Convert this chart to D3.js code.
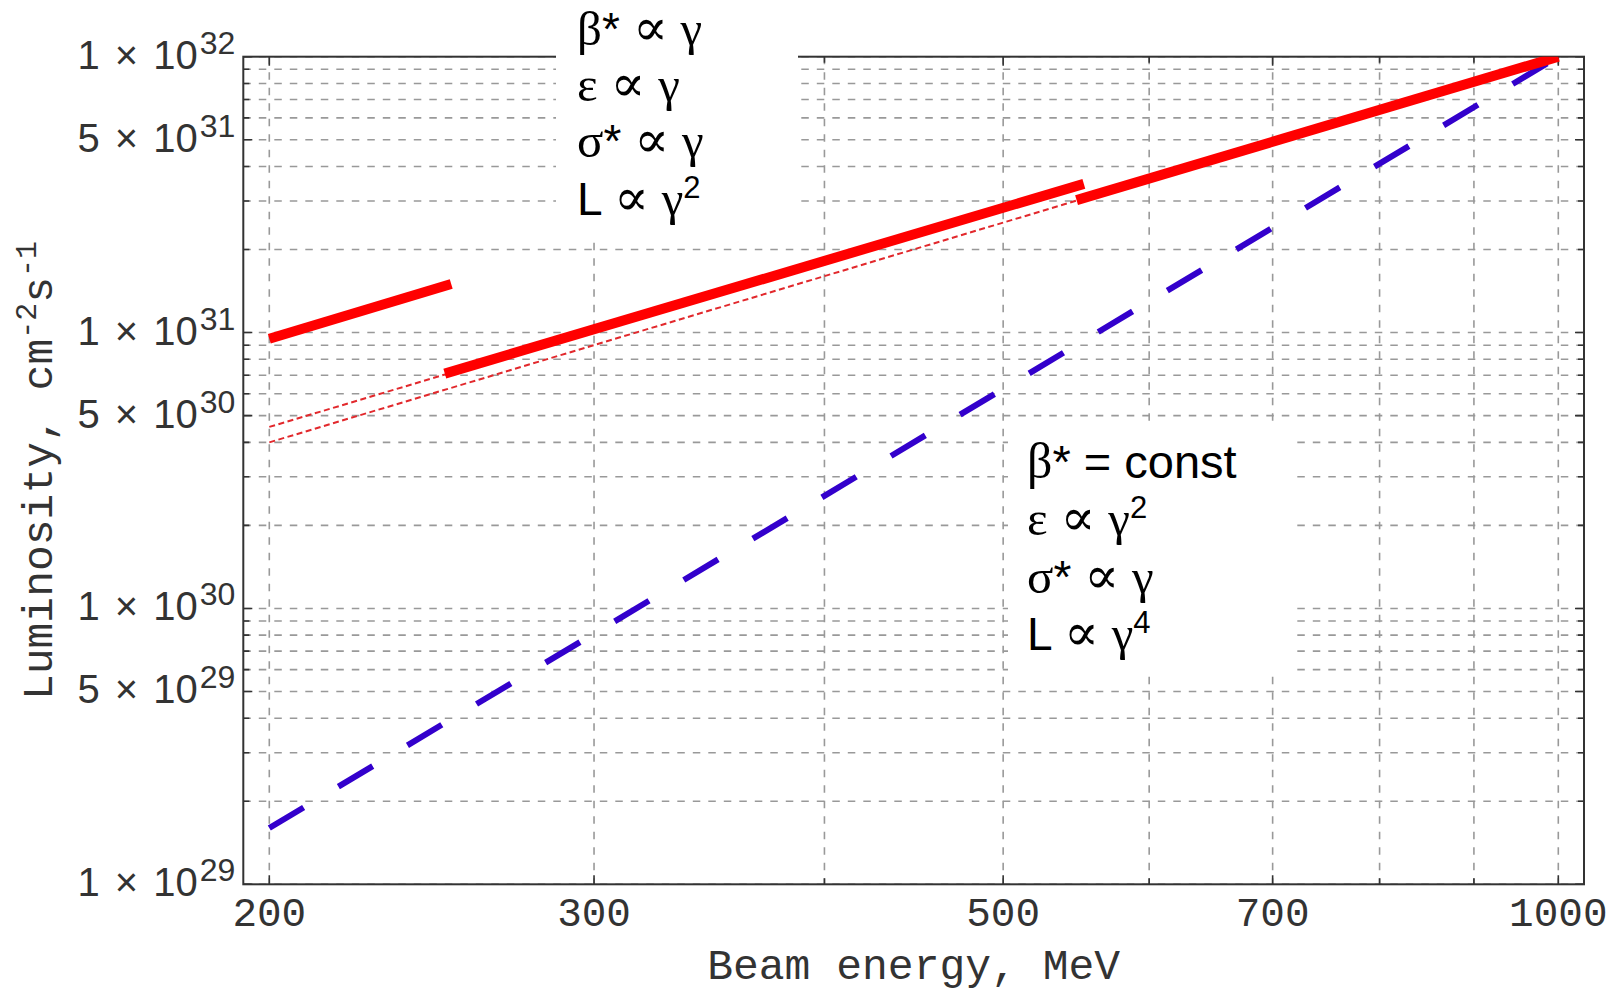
<!DOCTYPE html>
<html>
<head>
<meta charset="utf-8">
<script src="https://cdn.jsdelivr.net/npm/d3@7"></script>
<style>
	body { margin: 0; background: #fff; }
</style>
</head>
<body>
<div id="chart"></div>
<script>
/* * * * * * * * * * * * * *
 *   Luminosity vs energy   *
 * * * * * * * * * * * * * */

// x axis: beam energy, MeV
const energyGrid = [200, 300, 400, 500, 600, 700, 800, 900, 1000];
const energyTicks = [200, 300, 500, 700, 1000];

// y axis: luminosity, cm^-2 s^-1
const lumiMantissas = [1, 2, 3, 4, 5, 6, 7, 8, 9];
const lumiDecades = [29, 30, 31];
const lumiTicks = [1e29, 5e29, 1e30, 5e30, 1e31, 5e31, 1e32];

// red, beta* ~ gamma, thick pieces  [energy, luminosity]
const redStep1 = [[200, 9.5e30], [251, 1.5e31]];
const redStep2 = [[249, 7.1e30], [553, 3.46e31]];
const redStep3 = [[548, 3.02e31], [1000, 1.0e32]];

// thin dotted continuations of the red pieces
const redDotUpper = [[200, 4.55e30], [250, 7.1e30]];
const redDotLower = [[200, 4.0e30], [550, 3.03e31]];

// blue, beta* = const
const blueLine = [[200, 1.6e29], [1000, 1.0e32]];

// annotation text, one array of pieces per line
const upperNote = [
	[{ t: 'β', g: 1 }, { t: '*' }, { t: ' ' }, { t: '∝', g: 2 }, { t: ' ' }, { t: 'γ', g: 1 }],
	[{ t: 'ε', g: 1 }, { t: ' ' }, { t: '∝', g: 2 }, { t: ' ' }, { t: 'γ', g: 1 }],
	[{ t: 'σ', g: 1 }, { t: '*' }, { t: ' ' }, { t: '∝', g: 2 }, { t: ' ' }, { t: 'γ', g: 1 }],
	[{ t: 'L' }, { t: ' ' }, { t: '∝', g: 2 }, { t: ' ' }, { t: 'γ', g: 1 }, { t: '2', sup: 1 }]
];
const lowerNote = [
	[{ t: 'β', g: 1 }, { t: '* = const' }],
	[{ t: 'ε', g: 1 }, { t: ' ' }, { t: '∝', g: 2 }, { t: ' ' }, { t: 'γ', g: 1 }, { t: '2', sup: 1 }],
	[{ t: 'σ', g: 1 }, { t: '*' }, { t: ' ' }, { t: '∝', g: 2 }, { t: ' ' }, { t: 'γ', g: 1 }],
	[{ t: 'L' }, { t: ' ' }, { t: '∝', g: 2 }, { t: ' ' }, { t: 'γ', g: 1 }, { t: '4', sup: 1 }]
];

const MONO = "'Liberation Mono', 'DejaVu Sans Mono', monospace";
const SANS = "'Liberation Sans', Arial, sans-serif";
const GREEK = "'Liberation Serif', 'DejaVu Serif', serif";

class LumiChart {
	constructor(parentElement) {
		this.parentElement = parentElement;
		this.initVis();
	}

	initVis() {
		let vis = this;

		vis.width = 1619;
		vis.height = 995;

		vis.svg = d3
			.select('#' + vis.parentElement)
			.append('svg')
			.attr('width', vis.width)
			.attr('height', vis.height)
			.style('display', 'block')
			.style('background', '#fff');

		// log scales
		vis.x = d3.scaleLog().domain([200, 1000]).range([269.3, 1558.3]);
		vis.y = d3.scaleLog().domain([1e29, 1e32]).range([884.3, 56.7]);

		// frame is padded a bit left and right of the energy range
		vis.frame = {
			left: vis.x(200) - 26,
			right: vis.x(1000) + 25.7,
			top: vis.y(1e32),
			bottom: vis.y(1e29)
		};

		vis.lumiGrid = lumiDecades.flatMap((e) => lumiMantissas.map((m) => m * 10 ** e)).concat([1e32]);

		vis.drawGrid();
		vis.drawFrame();
		vis.drawBoxes();
		vis.drawLines();
		vis.drawLabels();
		vis.drawNotes();
	}

	drawGrid() {
		let vis = this;
		let f = vis.frame;
		let g = vis.svg.append('g').attr('class', 'grid');

		g.selectAll('.vgrid')
			.data(energyGrid)
			.join('line')
			.attr('class', 'vgrid')
			.attr('x1', (d) => vis.x(d))
			.attr('x2', (d) => vis.x(d))
			.attr('y1', f.top)
			.attr('y2', f.bottom)
			.attr('stroke', '#999')
			.attr('stroke-width', 1.6)
			.attr('stroke-dasharray', '7.5,8');

		g.selectAll('.hgrid')
			.data(vis.lumiGrid)
			.join('line')
			.attr('class', 'hgrid')
			.attr('x1', f.left)
			.attr('x2', f.right)
			.attr('y1', (d) => vis.y(d))
			.attr('y2', (d) => vis.y(d))
			.attr('stroke', '#999')
			.attr('stroke-width', 1.6)
			.attr('stroke-dasharray', '7.5,8');
	}

	drawFrame() {
		let vis = this;
		let f = vis.frame;
		let g = vis.svg.append('g').attr('class', 'frame');

		g.append('rect')
			.attr('x', f.left)
			.attr('y', f.top)
			.attr('width', f.right - f.left)
			.attr('height', f.bottom - f.top)
			.attr('fill', 'none')
			.attr('stroke', '#333')
			.attr('stroke-width', 2);

		// inward ticks on all four sides
		const isMajor = (d) => lumiTicks.some((t) => Math.abs(t / d - 1) < 1e-6);
		g.selectAll('.ytick')
			.data(vis.lumiGrid)
			.join('path')
			.attr('class', 'ytick')
			.attr('d', (d) => {
				let len = isMajor(d) ? 9 : 6;
				let yy = vis.y(d);
				return `M${f.left},${yy}h${len}M${f.right},${yy}h${-len}`;
			})
			.attr('stroke', '#333')
			.attr('stroke-width', 1.6);

		g.selectAll('.xtick')
			.data(energyGrid)
			.join('path')
			.attr('class', 'xtick')
			.attr('d', (d) => {
				let len = energyTicks.includes(d) ? 9 : 6;
				let xx = vis.x(d);
				return `M${xx},${f.bottom}v${-len}M${xx},${f.top}v${len}`;
			})
			.attr('stroke', '#333')
			.attr('stroke-width', 1.6);
	}

	drawBoxes() {
		let vis = this;

		// white backgrounds behind the two notes
		vis.svg.append('rect').attr('x', 556).attr('y', 0).attr('width', 242).attr('height', 236).attr('fill', '#fff');
		vis.svg.append('rect').attr('x', 1008).attr('y', 421).attr('width', 284).attr('height', 251).attr('fill', '#fff');
	}

	drawLines() {
		let vis = this;
		let f = vis.frame;

		vis.svg
			.append('clipPath')
			.attr('id', 'plot-clip')
			.append('rect')
			.attr('x', f.left)
			.attr('y', f.top)
			.attr('width', f.right - f.left)
			.attr('height', f.bottom - f.top);

		let line = d3
			.line()
			.x((d) => vis.x(d[0]))
			.y((d) => vis.y(d[1]));

		let g = vis.svg.append('g').attr('clip-path', 'url(#plot-clip)');

		// dotted continuations
		[redDotUpper, redDotLower].forEach((s) => {
			g.append('path')
				.datum(s)
				.attr('d', line)
				.attr('fill', 'none')
				.attr('stroke', '#e2282c')
				.attr('stroke-width', 2)
				.attr('stroke-dasharray', '6,3.5');
		});

		// blue long dashes
		g.append('path')
			.datum(blueLine)
			.attr('d', line)
			.attr('fill', 'none')
			.attr('stroke', '#3300cc')
			.attr('stroke-width', 6)
			.attr('stroke-dasharray', '40,40.5');

		// thick red pieces
		[redStep1, redStep2, redStep3].forEach((s) => {
			g.append('path')
				.datum(s)
				.attr('d', line)
				.attr('fill', 'none')
				.attr('stroke', '#ff0000')
				.attr('stroke-width', 10);
		});
	}

	drawLabels() {
		let vis = this;
		let f = vis.frame;

		// x tick labels
		vis.svg
			.append('g')
			.selectAll('text')
			.data(energyTicks)
			.join('text')
			.attr('x', (d) => vis.x(d))
			.attr('y', 926)
			.attr('text-anchor', 'middle')
			.style('font-family', MONO)
			.style('font-size', '41px')
			.style('fill', '#333')
			.text((d) => d);

		// y tick labels, m x 10^e
		let yl = vis.svg
			.append('g')
			.selectAll('text')
			.data(lumiTicks)
			.join('text')
			.attr('x', f.left - 8)
			.attr('y', (d) => vis.y(d) + 12)
			.attr('text-anchor', 'end')
			.style('font-family', SANS)
			.style('font-size', '40px')
			.style('fill', '#333');

		const expOf = (d) => Math.round(Math.log10(d) - 0.35);
		yl.append('tspan').text((d) => Math.round(d / 10 ** expOf(d)) + ' ');
		yl.append('tspan').attr('dx', 4).text('×');
		yl.append('tspan').attr('dx', 4).text(' 10');
		yl.append('tspan')
			.attr('dy', -15)
			.attr('dx', 2)
			.style('font-size', '32px')
			.text((d) => expOf(d));

		// axis titles
		vis.svg
			.append('text')
			.attr('x', (f.left + f.right) / 2)
			.attr('y', 979)
			.attr('text-anchor', 'middle')
			.style('font-family', MONO)
			.style('font-size', '43px')
			.style('fill', '#333')
			.text('Beam energy, MeV');

		let yt = vis.svg
			.append('text')
			.attr('transform', `translate(52, ${(f.top + f.bottom) / 2}) rotate(-90)`)
			.attr('text-anchor', 'middle')
			.style('font-family', MONO)
			.style('font-size', '43px')
			.style('fill', '#333');
		yt.append('tspan').text('Luminosity, cm');
		yt.append('tspan').attr('dy', -16).style('font-size', '30px').text('-2');
		yt.append('tspan').attr('dy', 16).text('s');
		yt.append('tspan').attr('dy', -16).style('font-size', '30px').text('-1');
	}

	drawNotes() {
		let vis = this;

		const writeNote = (lines, x, baselines, sizes) => {
			lines.forEach((pieces, i) => {
				let fs = sizes[i];
				let txt = vis.svg
					.append('text')
					.attr('x', x)
					.attr('y', baselines[i])
					.style('font-family', SANS)
					.style('font-size', fs + 'px')
					.style('fill', '#000');
				pieces.forEach((p) => {
					let ts = txt.append('tspan').text(p.t);
					if (p.g === 1) ts.style('font-family', GREEK).style('font-size', Math.round(fs * 1.06) + 'px');
					if (p.g === 2) ts.style('font-family', GREEK).style('font-size', Math.round(fs * 1.12) + 'px');
					if (p.sup) ts.style('font-size', Math.round(fs * 0.68) + 'px').attr('dy', -fs * 0.36);
				});
			});
		};

		writeNote(upperNote, 577, [45, 101, 157, 215], [46, 46, 46, 46]);
		writeNote(lowerNote, 1027, [478, 535, 593, 650], [47, 46, 46, 46]);
	}
}

new LumiChart('chart');
</script>
</body>
</html>
